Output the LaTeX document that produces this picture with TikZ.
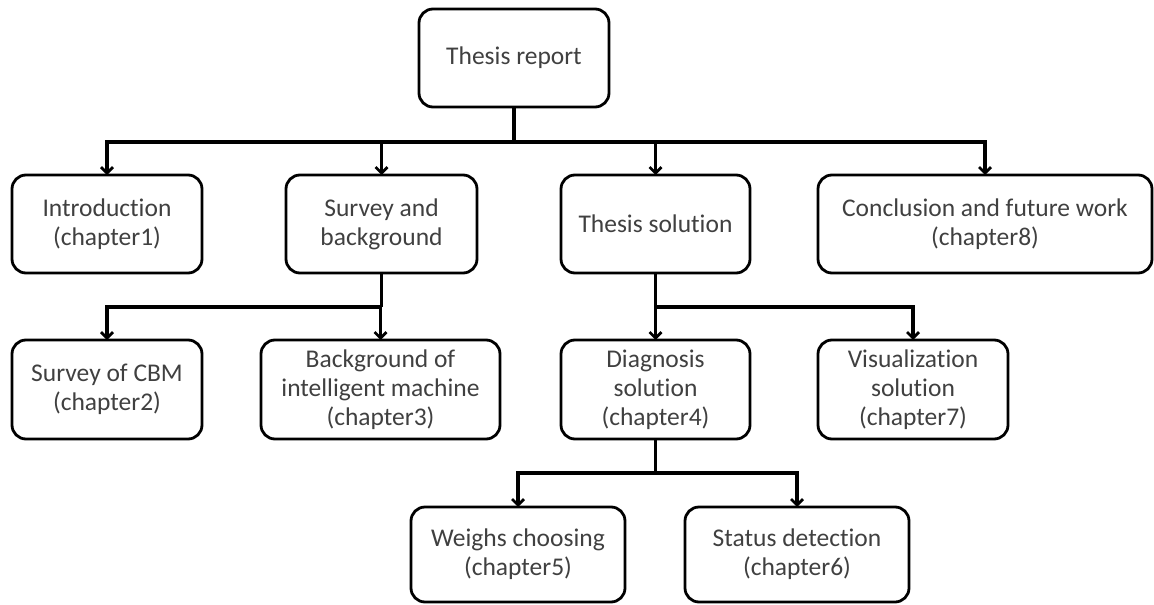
\documentclass[tikz,border=0pt]{standalone}
\usepackage{fontspec}
\setmainfont{Carlito}[Ligatures=NoCommon]
\usetikzlibrary{arrows.meta}

\begin{document}
\begin{tikzpicture}[x=1pt,y=-1pt,
  box/.style={draw=black, line width=2.8pt, rounded corners=14pt,
    align=center, inner sep=0pt, outer sep=0pt, text=black!75,
    font=\fontsize{25.5}{29}\selectfont},
  link/.style={draw=black, line width=3.2pt},
  tip/.style={link, -{Straight Barb[length=6pt,width=12pt,line width=2.8pt]}}
]
\useasboundingbox (0,0) rectangle (1154,605);

% top level
\node[box, minimum width=190pt, minimum height=98pt] (report) at (514,58) {Thesis report};

% chapters
\node[box, minimum width=190pt, minimum height=98pt] (intro) at (107,224) {Introduction\\(chapter1)};
\node[box, minimum width=191pt, minimum height=98pt] (survey) at (381.5,224) {Survey and\\background};
\node[box, minimum width=189pt, minimum height=98pt] (solution) at (655.5,224) {Thesis solution};
\node[box, minimum width=334pt, minimum height=98pt] (concl) at (985,224) {Conclusion and future work\\(chapter8)};

% survey branch
\node[box, minimum width=190pt, minimum height=99pt] (cbm) at (107,389.5) {Survey of CBM\\(chapter2)};
\node[box, minimum width=239pt, minimum height=99pt] (machine) at (380.5,389.5) {Background of\\intelligent machine\\(chapter3)};

% solution branch
\node[box, minimum width=189pt, minimum height=99pt] (diag) at (655.5,389.5) {Diagnosis\\solution\\(chapter4)};
\node[box, minimum width=190pt, minimum height=99pt] (vis) at (913,389.5) {Visualization\\solution\\(chapter7)};

% diagnosis branch
\node[box, minimum width=214pt, minimum height=95pt] (weigh) at (518,554.5) {Weighs choosing\\(chapter5)};
\node[box, minimum width=224pt, minimum height=95pt] (status) at (797,554.5) {Status detection\\(chapter6)};

% bus coordinates
\coordinate (b1) at (514,142);
\coordinate (b2) at (381.5,307);
\coordinate (b3) at (655.5,307);
\coordinate (b4) at (655.5,473);

% connectors from the report
\draw[link] (report.south) -- (b1);
\foreach \n in {intro,survey,solution,concl}
  \draw[tip] (b1) -| (\n.north);

% connectors from survey and background
\draw[link] (survey.south) -- (b2);
\foreach \n in {cbm,machine}
  \draw[tip] (b2) -| (\n.north);

% connectors from thesis solution
\draw[link] (solution.south) -- (b3);
\foreach \n in {diag,vis}
  \draw[tip] (b3) -| (\n.north);

% connectors from diagnosis solution
\draw[link] (diag.south) -- (b4);
\foreach \n in {weigh,status}
  \draw[tip] (b4) -| (\n.north);
\end{tikzpicture}
\end{document}
